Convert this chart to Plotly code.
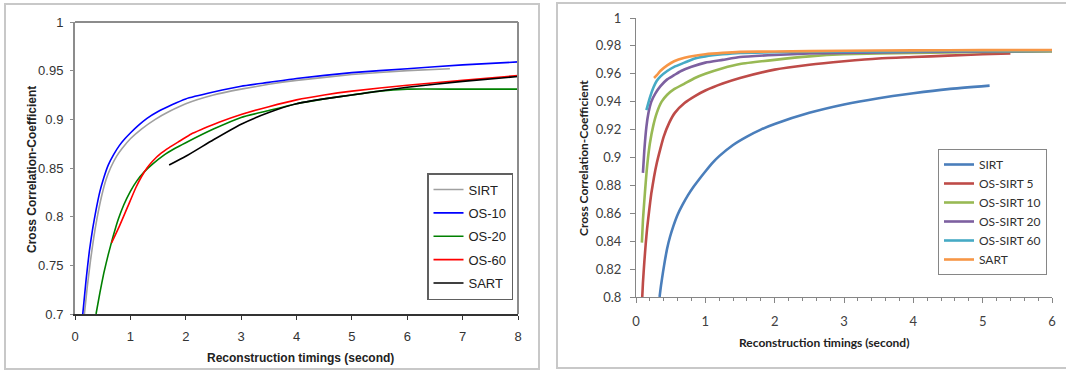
import plotly.graph_objects as go

W, H = 1066, 371

# ---------------- Left panel data ----------------
L_sirt_x = [0.17, 0.22, 0.28, 0.34, 0.4, 0.48, 0.56, 0.65, 0.75, 0.85, 1.0, 1.2, 1.45, 1.7, 2.0, 2.5, 3.0, 3.5, 4.0, 5.0, 6.0, 6.77]
L_sirt_y = [0.700, 0.727, 0.755, 0.779, 0.799, 0.821, 0.838, 0.851, 0.862, 0.870, 0.880, 0.890, 0.900, 0.908, 0.916, 0.925, 0.931, 0.936, 0.940, 0.946, 0.950, 0.952]
L_os10_x = [0.14, 0.2, 0.26, 0.32, 0.38, 0.45, 0.52, 0.6, 0.7, 0.8, 0.9, 1.0, 1.15, 1.3, 1.5, 1.75, 2.0, 2.5, 3.0, 3.5, 4.0, 5.0, 6.0, 7.0, 8.0]
L_os10_y = [0.700, 0.735, 0.765, 0.788, 0.807, 0.826, 0.840, 0.853, 0.864, 0.873, 0.880, 0.886, 0.894, 0.901, 0.908, 0.915, 0.921, 0.928, 0.934, 0.938, 0.942, 0.948, 0.952, 0.956, 0.959]
L_os20_x = [0.38, 0.45, 0.52, 0.6, 0.68, 0.78, 0.88, 1.0, 1.12, 1.25, 1.4, 1.6, 1.8, 2.0, 2.5, 3.0, 3.5, 4.0, 4.5, 5.0, 5.5, 6.0, 7.0, 8.0]
L_os20_y = [0.700, 0.722, 0.742, 0.761, 0.778, 0.797, 0.812, 0.826, 0.837, 0.846, 0.854, 0.863, 0.870, 0.876, 0.890, 0.902, 0.909, 0.916, 0.921, 0.925, 0.929, 0.931, 0.931, 0.931]
L_os60_x = [0.66, 0.8, 0.95, 1.1, 1.2, 1.3, 1.4, 1.55, 1.7, 1.9, 2.1, 2.3, 2.6, 3.0, 3.5, 4.0, 4.5, 5.0, 6.0, 7.0, 8.0]
L_os60_y = [0.773, 0.790, 0.810, 0.830, 0.841, 0.850, 0.857, 0.865, 0.871, 0.878, 0.885, 0.890, 0.897, 0.905, 0.913, 0.920, 0.925, 0.929, 0.935, 0.940, 0.945]
L_sart_x = [1.7, 2.0, 2.5, 3.0, 3.5, 4.0, 4.5, 5.0, 6.0, 7.0, 8.0]
L_sart_y = [0.853, 0.862, 0.879, 0.895, 0.907, 0.916, 0.921, 0.925, 0.933, 0.939, 0.944]

L_names = ["SIRT", "OS-10", "OS-20", "OS-60", "SART"]
L_colors = ["#A0A0A0", "#0000FF", "#008000", "#FF0000", "#000000"]
L_ytick_vals = [0.7, 0.75, 0.8, 0.85, 0.9, 0.95, 1.0]
L_ytick_text = ["0.7", "0.75", "0.8", "0.85", "0.9", "0.95", "1"]
L_xtick_vals = [0, 1, 2, 3, 4, 5, 6, 7, 8]

# ---------------- Right panel data ----------------
R_sirt_x = [0.34, 0.36, 0.39, 0.42, 0.45, 0.49, 0.54, 0.6, 0.67, 0.75, 0.83, 0.92, 1.0, 1.1, 1.2, 1.4, 1.6, 1.8, 2.0, 2.5, 3.0, 3.5, 4.0, 4.5, 5.1]
R_sirt_y = [0.800, 0.808, 0.818, 0.827, 0.835, 0.843, 0.851, 0.859, 0.866, 0.873, 0.879, 0.885, 0.890, 0.896, 0.901, 0.909, 0.915, 0.920, 0.924, 0.932, 0.938, 0.9425, 0.946, 0.949, 0.9515]
R_os5_x = [0.09, 0.1, 0.12, 0.14, 0.16, 0.19, 0.22, 0.26, 0.3, 0.35, 0.4, 0.48, 0.56, 0.7, 0.85, 1.0, 1.25, 1.5, 2.0, 2.5, 3.0, 3.5, 4.0, 4.5, 5.0, 5.4]
R_os5_y = [0.800, 0.810, 0.825, 0.838, 0.849, 0.862, 0.874, 0.886, 0.896, 0.906, 0.915, 0.925, 0.932, 0.939, 0.944, 0.948, 0.953, 0.957, 0.963, 0.9665, 0.969, 0.971, 0.972, 0.973, 0.974, 0.9745]
R_os10_x = [0.085, 0.1, 0.12, 0.14, 0.165, 0.2, 0.25, 0.3, 0.37, 0.45, 0.55, 0.7, 0.85, 1.0, 1.25, 1.5, 2.0, 2.5, 3.0, 4.0, 5.0, 6.0]
R_os10_y = [0.839, 0.855, 0.869, 0.882, 0.896, 0.910, 0.923, 0.932, 0.940, 0.945, 0.949, 0.953, 0.957, 0.960, 0.964, 0.967, 0.970, 0.9725, 0.974, 0.975, 0.9757, 0.976]
R_os20_x = [0.1, 0.12, 0.15, 0.18, 0.22, 0.28, 0.35, 0.45, 0.55, 0.65, 0.8, 1.0, 1.25, 1.5, 2.0, 2.5, 3.0, 4.0, 5.0, 6.0]
R_os20_y = [0.889, 0.905, 0.922, 0.932, 0.940, 0.946, 0.951, 0.956, 0.959, 0.962, 0.965, 0.968, 0.970, 0.972, 0.9735, 0.9745, 0.975, 0.9757, 0.976, 0.9763]
R_os60_x = [0.15, 0.2, 0.25, 0.3, 0.35, 0.45, 0.55, 0.7, 0.85, 1.0, 1.25, 1.5, 2.0, 3.0, 4.0, 5.0, 6.0]
R_os60_y = [0.934, 0.943, 0.950, 0.955, 0.958, 0.962, 0.965, 0.968, 0.971, 0.9725, 0.974, 0.975, 0.9755, 0.976, 0.9762, 0.9764, 0.9765]
R_sart_x = [0.26, 0.3, 0.35, 0.45, 0.55, 0.7, 0.85, 1.0, 1.25, 1.5, 2.0, 3.0, 4.0, 5.0, 6.0]
R_sart_y = [0.957, 0.959, 0.962, 0.966, 0.969, 0.9715, 0.973, 0.974, 0.975, 0.9757, 0.976, 0.9765, 0.9768, 0.977, 0.977]

R_names = ["SIRT", "OS-SIRT 5", "OS-SIRT 10", "OS-SIRT 20", "OS-SIRT 60", "SART"]
R_colors = ["#4A7EBB", "#BE4B48", "#98B954", "#7D60A0", "#46AAC5", "#F79646"]
R_ytick_vals = [0.8, 0.82, 0.84, 0.86, 0.88, 0.9, 0.92, 0.94, 0.96, 0.98, 1.0]
R_ytick_text = ["0.8", "0.82", "0.84", "0.86", "0.88", "0.9", "0.92", "0.94", "0.96", "0.98", "1"]
R_xtick_vals = [0, 1, 2, 3, 4, 5, 6]

X_TITLE = "Reconstruction timings (second)"
Y_TITLE = "Cross Correlation-Coefficient"

# ---------------- helpers ----------------
def px_x(p):
    return p / W

def px_y(p):
    return 1 - p / H

fig = go.Figure()

L_series = [(L_sirt_x, L_sirt_y), (L_os10_x, L_os10_y), (L_os20_x, L_os20_y),
            (L_os60_x, L_os60_y), (L_sart_x, L_sart_y)]
for i, ((xs, ys), name, col) in enumerate(zip(L_series, L_names, L_colors)):
    fig.add_trace(go.Scatter(x=xs, y=ys, name=name, mode="lines",
                             line=dict(color=col, width=1.6, shape="spline", smoothing=0.5),
                             xaxis="x", yaxis="y", legend="legend",
                             legendgroup="L%d" % i, cliponaxis=True))

R_series = [(R_sirt_x, R_sirt_y), (R_os5_x, R_os5_y), (R_os10_x, R_os10_y),
            (R_os20_x, R_os20_y), (R_os60_x, R_os60_y), (R_sart_x, R_sart_y)]
for i, ((xs, ys), name, col) in enumerate(zip(R_series, R_names, R_colors)):
    fig.add_trace(go.Scatter(x=xs, y=ys, name=name, mode="lines",
                             line=dict(color=col, width=2.6, shape="spline", smoothing=0.5),
                             xaxis="x2", yaxis="y2", legend="legend2",
                             legendgroup="R%d" % i, cliponaxis=True))

LFONT = "Liberation Sans, Arial, sans-serif"
RFONT = "Lato, Carlito, Calibri, sans-serif"

layout = dict(
    width=W, height=H,
    margin=dict(l=0, r=0, t=0, b=0, autoexpand=False),
    paper_bgcolor="white", plot_bgcolor="white",
    showlegend=True,
    xaxis=dict(domain=[px_x(75), px_x(518)], range=[0, 8], tickvals=L_xtick_vals,
               showline=True, linecolor="#333333", linewidth=2, mirror=False,
               ticks="outside", ticklen=4, tickcolor="#333333", tickwidth=1,
               showgrid=False, zeroline=False, ticklabelstandoff=5, automargin=False,
               tickfont=dict(family=LFONT, size=13, color="#333333"),
               anchor="y", fixedrange=True),
    yaxis=dict(domain=[px_y(314), px_y(22)], range=[0.7, 1.0], tickvals=L_ytick_vals,
               ticktext=L_ytick_text,
               showline=True, linecolor="#8C8C8C", linewidth=2, mirror=False,
               ticks="outside", ticklen=3, tickcolor="#8C8C8C",
               showgrid=False, zeroline=False, ticklabelstandoff=4, automargin=False,
               tickfont=dict(family=LFONT, size=13, color="#333333"),
               anchor="x", fixedrange=True),
    xaxis2=dict(domain=[px_x(636), px_x(1052)], range=[0, 6], tickvals=R_xtick_vals,
                showline=True, linecolor="#868686", linewidth=1,
                ticks="outside", ticklen=5, tickcolor="#868686",
                minor=dict(ticks="outside", dtick=0.2, ticklen=3, tickcolor="#868686"),
                showgrid=False, zeroline=False, ticklabelstandoff=7, automargin=False,
                tickfont=dict(family=RFONT, size=13, color="#404040"),
                anchor="y2", fixedrange=True),
    yaxis2=dict(domain=[px_y(297), px_y(18)], range=[0.8, 1.0], tickvals=R_ytick_vals,
                ticktext=R_ytick_text,
                showline=True, linecolor="#868686", linewidth=1,
                ticks="outside", ticklen=5, tickcolor="#868686",
                showgrid=False, zeroline=False, ticklabelstandoff=6, automargin=False,
                tickfont=dict(family=RFONT, size=13, color="#404040"),
                anchor="x2", fixedrange=True),
    legend=dict(x=px_x(427), y=px_y(173), xanchor="left", yanchor="top",
                bgcolor="white", bordercolor="#606060", borderwidth=1.5,
                font=dict(family=LFONT, size=13, color="#222222"),
                tracegroupgap=3.5, traceorder="grouped"),
    legend2=dict(x=px_x(938), y=px_y(149), xanchor="left", yanchor="top",
                 bgcolor="white", bordercolor="#868686", borderwidth=1,
                 font=dict(family=RFONT, size=12, color="#303030"),
                 tracegroupgap=0, traceorder="grouped"),
)
fig.update_layout(**layout)

shapes = [
    # panel frames
    dict(type="rect", xref="paper", yref="paper", x0=px_x(5), x1=px_x(539), y0=px_y(369), y1=px_y(4),
         line=dict(color="#C8C8C8", width=2), layer="below"),
    dict(type="rect", xref="paper", yref="paper", x0=px_x(557), x1=px_x(1075), y0=px_y(368), y1=px_y(3),
         line=dict(color="#C8C8C8", width=2), layer="below"),
    # left plot area top and right border
    dict(type="line", xref="x domain", yref="y domain", x0=0, x1=1, y0=1, y1=1,
         line=dict(color="#8C8C8C", width=2)),
    dict(type="line", xref="x domain", yref="y domain", x0=1, x1=1, y0=0, y1=1,
         line=dict(color="#8C8C8C", width=2)),
]
fig.update_layout(shapes=shapes)

annotations = [
    dict(text="<b>%s</b>" % X_TITLE, xref="paper", yref="paper", x=px_x(300), y=px_y(358),
         showarrow=False, xanchor="center", yanchor="middle",
         font=dict(family=LFONT, size=12, color="#222222")),
    dict(text="<b>%s</b>" % Y_TITLE, xref="paper", yref="paper", x=px_x(32), y=px_y(170),
         showarrow=False, xanchor="center", yanchor="middle", textangle=-90,
         font=dict(family=LFONT, size=12, color="#222222")),
    dict(text="<b>%s</b>" % X_TITLE, xref="paper", yref="paper", x=px_x(824), y=px_y(342),
         showarrow=False, xanchor="center", yanchor="middle",
         font=dict(family=RFONT, size=12, color="#222222")),
    dict(text="<b>%s</b>" % Y_TITLE, xref="paper", yref="paper", x=px_x(583), y=px_y(158),
         showarrow=False, xanchor="center", yanchor="middle", textangle=-90,
         font=dict(family=RFONT, size=12, color="#222222")),
]
fig.update_layout(annotations=annotations)

fig.write_html("out.html", config={"displayModeBar": False},
               post_script="document.body.style.margin='0';document.body.style.overflow='hidden';")
